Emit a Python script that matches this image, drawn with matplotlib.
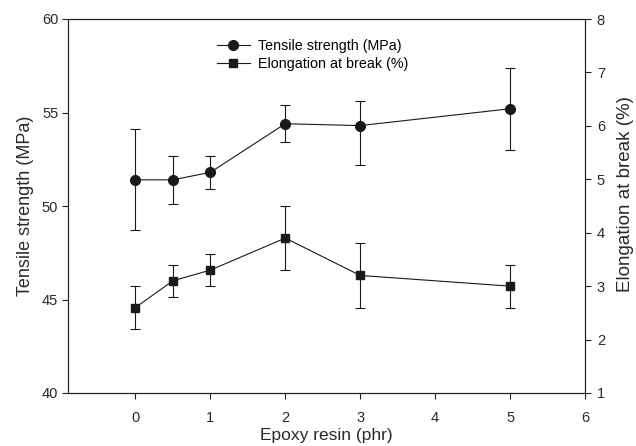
import matplotlib
matplotlib.use("Agg")
import matplotlib.pyplot as plt
from matplotlib.lines import Line2D

plt.rcParams['font.family'] = ['Liberation Sans', 'DejaVu Sans']

epoxy = [0, 0.5, 1, 2, 3, 5]
tensile = [51.4, 51.4, 51.8, 54.4, 54.3, 55.2]
tensile_err_low = [2.7, 1.3, 0.9, 1.0, 2.1, 2.2]
tensile_err_high = [2.7, 1.3, 0.9, 1.0, 1.3, 2.2]
elong = [2.6, 3.1, 3.3, 3.9, 3.2, 3.0]
elong_err = [0.4, 0.3, 0.3, 0.6, 0.6, 0.4]

xticks = [0, 1, 2, 3, 4, 5, 6]
left_ticks = [40, 45, 50, 55, 60]
right_ticks = [1, 2, 3, 4, 5, 6, 7, 8]

fig = plt.figure(figsize=(6.36, 4.46), dpi=100)
ax = fig.add_axes([68/636, 53/446, (585-68)/636, (393-19)/446])
ax2 = ax.twinx()

col = '#1a1a1a'
tcol = '#2a2a2a'
lw = 0.8
ax.errorbar(epoxy, tensile, yerr=[tensile_err_low, tensile_err_high], color=col,
            marker='o', markersize=7, lw=lw, elinewidth=lw, capsize=3.5, capthick=lw)
ax2.errorbar(epoxy, elong, yerr=elong_err, color=col,
             marker='s', markersize=6, lw=lw, elinewidth=lw, capsize=3.5, capthick=lw)

ax.set_xlim(-0.9, 6)
ax.set_ylim(40, 60)
ax2.set_ylim(1, 8)
ax.set_xticks(xticks)
ax.set_yticks(left_ticks)
ax2.set_yticks(right_ticks)

for a in (ax, ax2):
    for s in a.spines.values():
        s.set_linewidth(0.8)
        s.set_color('#222222')
    a.tick_params(direction='out', length=4, width=0.8, labelsize=10.5,
                  color='#222222', labelcolor=tcol)
ax.tick_params(axis='x', top=False, pad=9)
ax.tick_params(axis='y', pad=3)
ax2.tick_params(axis='y', pad=4.5)

ax.set_xlabel('Epoxy resin (phr)', fontsize=12.5, color=tcol, labelpad=2)
ax.set_ylabel('Tensile strength (MPa)', fontsize=13, color=tcol, labelpad=6)
ax2.set_ylabel('Elongation at break (%)', fontsize=13.5, color=tcol)
ax2.yaxis.set_label_coords(1.0 + 32/517, 0.5 + 12/374)

handles = [Line2D([], [], color=col, marker='o', markersize=7, lw=lw),
           Line2D([], [], color=col, marker='s', markersize=6, lw=lw)]
ax.legend(handles, ['Tensile strength (MPa)', 'Elongation at break (%)'],
          loc='upper left', bbox_to_anchor=((217-68)/517, 1 - (39-19)/374),
          frameon=False, fontsize=10.3, handlelength=2.3, handletextpad=0.6,
          labelspacing=0.25, borderaxespad=0, borderpad=0)

fig.savefig('out.png', dpi=100)
